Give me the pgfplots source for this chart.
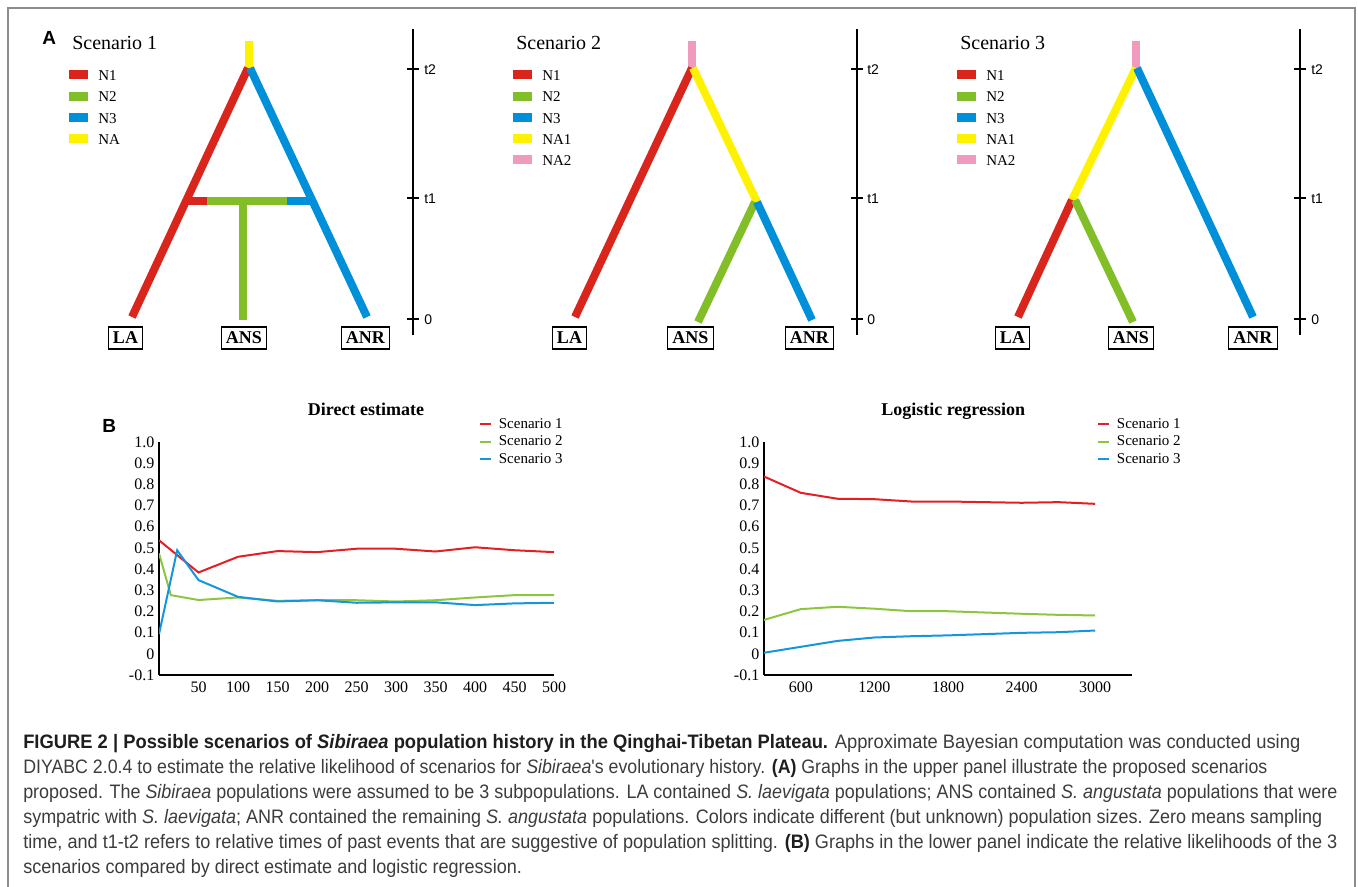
\documentclass[border=0pt]{standalone}
\usepackage{pgfplots}
\pgfplotsset{compat=1.18}
\usepackage{fontspec}
\setmainfont{Liberation Serif}
\newfontfamily\sansf{Liberation Sans}
\usepackage{graphicx}

\definecolor{tred}{RGB}{218,37,29}
\definecolor{tgreen}{RGB}{130,190,40}
\definecolor{tblue}{RGB}{0,144,218}
\definecolor{tyellow}{RGB}{255,242,0}
\definecolor{tpink}{RGB}{240,155,190}
\definecolor{cred}{RGB}{228,30,36}
\definecolor{cgreen}{RGB}{140,198,63}
\definecolor{cblue}{RGB}{20,150,220}
\definecolor{framegray}{RGB}{140,140,140}
\definecolor{capgray}{RGB}{60,60,60}
\definecolor{capdark}{RGB}{30,30,30}

\tikzset{tx/.style={inner sep=0pt, anchor=base west},
  br/.style={line width=6pt, line cap=butt},
  sw/.style={line width=6.75pt},
  tax/.style={black, line width=1.25pt},
  bx/.style={draw, line width=0.9pt, inner xsep=3.5pt, inner ysep=0pt, minimum height=16.5pt, font=\bfseries\fontsize{13.5pt}{14pt}\selectfont}}
\newcommand\capfont{\sansf\fontsize{14.6pt}{18pt}\selectfont}
\newcommand\legf{\fontsize{11.25pt}{12pt}\selectfont}
\newcommand\tf{\sansf\fontsize{10.5pt}{11pt}\selectfont}
\newcommand\scf{\fontsize{15pt}{16pt}\selectfont}
\newcommand\capline[2]{\resizebox{#1}{\height}{\capfont #2}}

\begin{document}
\begin{tikzpicture}
\begin{axis}[at={(0,0)}, anchor=south west, scale only axis,
  width=1018.5pt, height=665.25pt, xmin=0, xmax=1358, ymin=0, ymax=887,
  y dir=reverse, hide axis, clip=false]
% frame
\addplot[framegray, line width=1.5pt] coordinates {(8,887) (8,8) (1355,8) (1355,887)};
% panel labels
\node[tx, font=\sansf\bfseries\fontsize{14.25pt}{15pt}\selectfont] at (axis cs:42,45) {A};
\node[tx, font=\sansf\bfseries\fontsize{14.25pt}{15pt}\selectfont] at (axis cs:102,432) {B};
% ---------- Scenario 1
\node[tx, font=\scf] at (axis cs:72,49.5) {Scenario 1};
\addplot[sw, tred] coordinates {(69,75) (88,75)};
\addplot[sw, tgreen] coordinates {(69,96.5) (88,96.5)};
\addplot[sw, tblue] coordinates {(69,118) (88,118)};
\addplot[sw, tyellow] coordinates {(69,139) (88,139)};
\node[tx, font=\legf] at (axis cs:98,80.5) {N1};
\node[tx, font=\legf] at (axis cs:98,102) {N2};
\node[tx, font=\legf] at (axis cs:98,123.5) {N3};
\node[tx, font=\legf] at (axis cs:98,144.5) {NA};
\addplot[br, tyellow] coordinates {(249,41) (249,68)};
\addplot[br, tred] coordinates {(248,68) (132,317)};
\addplot[br, tblue] coordinates {(250,68) (367,317)};
\addplot[br, tred] coordinates {(186,201) (207,201)};
\addplot[br, tgreen] coordinates {(207,201) (287,201)};
\addplot[br, tblue] coordinates {(287,201) (312,201)};
\addplot[br, tgreen] coordinates {(243,201) (243,320)};
\node[bx] at (axis cs:125.5,338) {LA};
\node[bx] at (axis cs:244,338) {ANS};
\node[bx] at (axis cs:365.5,338) {ANR};
\addplot[tax] coordinates {(413,29) (413,335)};
\addplot[tax] coordinates {(407,69) (419,69)};
\addplot[tax] coordinates {(407,198) (419,198)};
\addplot[tax] coordinates {(407,319) (419,319)};
\node[tx, font=\tf] at (axis cs:424,74.5) {t2};
\node[tx, font=\tf] at (axis cs:424,203.5) {t1};
\node[tx, font=\tf] at (axis cs:424,324.5) {0};
% ---------- Scenario 2
\node[tx, font=\scf] at (axis cs:516,49.5) {Scenario 2};
\addplot[sw, tred] coordinates {(513,75) (532,75)};
\addplot[sw, tgreen] coordinates {(513,96.5) (532,96.5)};
\addplot[sw, tblue] coordinates {(513,118) (532,118)};
\addplot[sw, tyellow] coordinates {(513,139) (532,139)};
\addplot[sw, tpink] coordinates {(513,160) (532,160)};
\node[tx, font=\legf] at (axis cs:542,80.5) {N1};
\node[tx, font=\legf] at (axis cs:542,102) {N2};
\node[tx, font=\legf] at (axis cs:542,123.5) {N3};
\node[tx, font=\legf] at (axis cs:542,144.5) {NA1};
\node[tx, font=\legf] at (axis cs:542,165.5) {NA2};
\addplot[br, tpink] coordinates {(692,41) (692,68)};
\addplot[br, tred] coordinates {(692,68) (575,317)};
\addplot[br, tyellow] coordinates {(693,68) (757,202)};
\addplot[br, tgreen] coordinates {(755,202) (698,322)};
\addplot[br, tblue] coordinates {(757,202) (812,320)};
\node[bx] at (axis cs:569.5,338) {LA};
\node[bx] at (axis cs:690.5,338) {ANS};
\node[bx] at (axis cs:809.5,338) {ANR};
\addplot[tax] coordinates {(857,29) (857,335)};
\addplot[tax] coordinates {(851,69) (863,69)};
\addplot[tax] coordinates {(851,198) (863,198)};
\addplot[tax] coordinates {(851,319) (863,319)};
\node[tx, font=\tf] at (axis cs:867,74.5) {t2};
\node[tx, font=\tf] at (axis cs:867,203.5) {t1};
\node[tx, font=\tf] at (axis cs:867,324.5) {0};
% ---------- Scenario 3
\node[tx, font=\scf] at (axis cs:960,49.5) {Scenario 3};
\addplot[sw, tred] coordinates {(957,75) (976,75)};
\addplot[sw, tgreen] coordinates {(957,96.5) (976,96.5)};
\addplot[sw, tblue] coordinates {(957,118) (976,118)};
\addplot[sw, tyellow] coordinates {(957,139) (976,139)};
\addplot[sw, tpink] coordinates {(957,160) (976,160)};
\node[tx, font=\legf] at (axis cs:986,80.5) {N1};
\node[tx, font=\legf] at (axis cs:986,102) {N2};
\node[tx, font=\legf] at (axis cs:986,123.5) {N3};
\node[tx, font=\legf] at (axis cs:986,144.5) {NA1};
\node[tx, font=\legf] at (axis cs:986,165.5) {NA2};
\addplot[br, tpink] coordinates {(1136.5,41) (1136.5,68)};
\addplot[br, tyellow] coordinates {(1136,68) (1072,200)};
\addplot[br, tblue] coordinates {(1137,68) (1253,317)};
\addplot[br, tred] coordinates {(1072,200) (1018,317)};
\addplot[br, tgreen] coordinates {(1075,200) (1133,322)};
\node[bx] at (axis cs:1012.5,338) {LA};
\node[bx] at (axis cs:1131,338) {ANS};
\node[bx] at (axis cs:1253,338) {ANR};
\addplot[tax] coordinates {(1300,29) (1300,335)};
\addplot[tax] coordinates {(1294,69) (1306,69)};
\addplot[tax] coordinates {(1294,198) (1306,198)};
\addplot[tax] coordinates {(1294,319) (1306,319)};
\node[tx, font=\tf] at (axis cs:1311,74.5) {t2};
\node[tx, font=\tf] at (axis cs:1311,203.5) {t1};
\node[tx, font=\tf] at (axis cs:1311,324.5) {0};
% ---------- caption
\node[tx, text=capdark] at (axis cs:23,748) {\capline{957.75pt}{\textbf{FIGURE 2 | Possible scenarios of \textit{Sibiraea} population history in the Qinghai-Tibetan Plateau.} {\color{capgray}Approximate Bayesian computation was conducted using}}};
\node[tx, text=capgray] at (axis cs:23,773) {\capline{933pt}{DIYABC 2.0.4 to estimate the relative likelihood of scenarios for \textit{Sibiraea}'s evolutionary history. \textbf{\color{capdark}(A)} Graphs in the upper panel illustrate the proposed scenarios}};
\node[tx, text=capgray] at (axis cs:23,798) {\capline{985.5pt}{proposed. The \textit{Sibiraea} populations were assumed to be 3 subpopulations. LA contained \textit{S. laevigata} populations; ANS contained \textit{S. angustata} populations that were}};
\node[tx, text=capgray] at (axis cs:23,823) {\capline{974.25pt}{sympatric with \textit{S. laevigata}; ANR contained the remaining \textit{S. angustata} populations. Colors indicate different (but unknown) population sizes. Zero means sampling}};
\node[tx, text=capgray] at (axis cs:23,848) {\capline{985.5pt}{time, and t1-t2 refers to relative times of past events that are suggestive of population splitting. \textbf{\color{capdark}(B)} Graphs in the lower panel indicate the relative likelihoods of the 3}};
\node[tx, text=capgray] at (axis cs:23,873) {\capline{374pt}{scenarios compared by direct estimate and logistic regression.}};
\end{axis}

% ---------- Direct estimate
\begin{axis}[at={(119.25pt,159pt)}, anchor=south west,
  scale only axis, width=296.25pt, height=174.75pt,
  xmin=0, xmax=500, ymin=-0.1, ymax=1,
  axis x line*=bottom, axis y line*=left,
  axis line style={-, line width=1.1pt, black},
  major tick length=0pt,
  xtick={50,100,150,200,250,300,350,400,450,500},
  xticklabels={50,100,150,200,250,300,350,400,450,500},
  ytick={-0.1,0,0.1,0.2,0.3,0.4,0.5,0.6,0.7,0.8,0.9,1},
  yticklabels={-0.1,0,0.1,0.2,0.3,0.4,0.5,0.6,0.7,0.8,0.9,1.0},
  tick label style={font=\fontsize{12pt}{13pt}\selectfont},
  xticklabel style={yshift=-1.5pt},
  every axis title shift=0pt,
  title={Direct estimate},
  title style={font=\bfseries\fontsize{13.5pt}{14pt}\selectfont, at={(axis description cs:0.524,1.112)}, anchor=base, inner sep=0pt},
  legend style={at={(axis description cs:0.81,1.112)}, anchor=north west, draw=none, fill=none, font=\legf, inner sep=0pt, row sep=1.25pt, cells={anchor=west}, nodes={inner sep=1pt, text height=8pt, text depth=2pt}, /tikz/every odd column/.append style={column sep=4pt}},
  legend image code/.code={\draw[#1, line width=1.5pt] (0pt,0pt) -- (8.25pt,0pt);},
  every axis plot/.append style={line width=1.5pt, no markers},
]
\addplot[cred] coordinates {(0,0.536) (50,0.384) (100,0.458) (150,0.485) (200,0.480) (250,0.496) (300,0.496) (350,0.483) (400,0.503) (450,0.489) (500,0.480)};
\addplot[cgreen] coordinates {(0,0.474) (15,0.277) (50,0.254) (100,0.266) (150,0.250) (200,0.253) (250,0.253) (300,0.247) (350,0.253) (400,0.266) (450,0.277) (500,0.277)};
\addplot[cblue] coordinates {(0,0.093) (23,0.489) (50,0.348) (100,0.269) (150,0.247) (200,0.253) (250,0.241) (300,0.243) (350,0.243) (400,0.230) (450,0.238) (500,0.241)};
\legend{Scenario 1, Scenario 2, Scenario 3}
\end{axis}

% ---------- Logistic regression
\begin{axis}[at={(573pt,159pt)}, anchor=south west,
  scale only axis, width=276pt, height=174.75pt,
  xmin=300, xmax=3300, ymin=-0.1, ymax=1,
  axis x line*=bottom, axis y line*=left,
  axis line style={-, line width=1.1pt, black},
  major tick length=0pt,
  xtick={600,1200,1800,2400,3000},
  xticklabels={600,1200,1800,2400,3000},
  ytick={-0.1,0,0.1,0.2,0.3,0.4,0.5,0.6,0.7,0.8,0.9,1},
  yticklabels={-0.1,0,0.1,0.2,0.3,0.4,0.5,0.6,0.7,0.8,0.9,1.0},
  tick label style={font=\fontsize{12pt}{13pt}\selectfont},
  xticklabel style={yshift=-1.5pt},
  every axis title shift=0pt,
  title={Logistic regression},
  title style={font=\bfseries\fontsize{13.5pt}{14pt}\selectfont, at={(axis description cs:0.514,1.112)}, anchor=base, inner sep=0pt},
  legend style={at={(axis description cs:0.905,1.112)}, anchor=north west, draw=none, fill=none, font=\legf, inner sep=0pt, row sep=1.25pt, cells={anchor=west}, nodes={inner sep=1pt, text height=8pt, text depth=2pt}, /tikz/every odd column/.append style={column sep=4pt}},
  legend image code/.code={\draw[#1, line width=1.5pt] (0pt,0pt) -- (8.25pt,0pt);},
  every axis plot/.append style={line width=1.5pt, no markers},
]
\addplot[cred] coordinates {(300,0.837) (600,0.760) (900,0.732) (1200,0.730) (1500,0.719) (1800,0.719) (2100,0.716) (2400,0.713) (2700,0.716) (3000,0.708)};
\addplot[cgreen] coordinates {(300,0.160) (600,0.211) (900,0.222) (1200,0.213) (1500,0.201) (1800,0.201) (2100,0.195) (2400,0.189) (2700,0.184) (3000,0.181)};
\addplot[cblue] coordinates {(300,0.005) (600,0.033) (900,0.061) (1200,0.077) (1500,0.083) (1800,0.087) (2100,0.093) (2400,0.099) (2700,0.102) (3000,0.110)};
\legend{Scenario 1, Scenario 2, Scenario 3}
\end{axis}
\pgfresetboundingbox
\useasboundingbox (0,0) rectangle (1018.5pt,665.25pt);
\end{tikzpicture}
\end{document}
